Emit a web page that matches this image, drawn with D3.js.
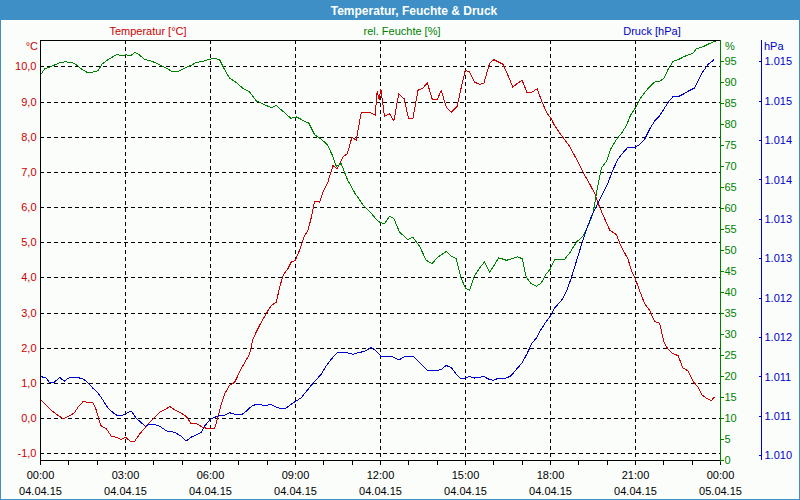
<!DOCTYPE html>
<html>
<head>
<meta charset="utf-8">
<script src="https://cdn.jsdelivr.net/npm/d3@7"></script>
<style>
  body { margin: 0; background: #fbfdfb; }
  svg { display: block; font-family: "Liberation Sans", Arial, sans-serif; }
  .axis path, .axis line { shape-rendering: crispEdges; }
</style>
</head>
<body>
<svg id="chart" width="800" height="500"></svg>
<script>
// tick labels
const yTempTicks = [-1, 0, 1, 2, 3, 4, 5, 6, 7, 8, 9, 10]
const yHumTicks = [0, 5, 10, 15, 20, 25, 30, 35, 40, 45, 50, 55, 60, 65, 70, 75, 80, 85, 90, 95]
const yPressTicks = [1010, 1010.5, 1011, 1011.5, 1012, 1012.5, 1013, 1013.5, 1014, 1014.5, 1015]
const xLabelHours = [0, 3, 6, 9, 12, 15, 18, 21, 24]

// Temperatur [°C]
const tempHours = [0.02,0.4,0.81,0.99,1.2,1.34,1.52,1.69,1.87,1.99,
  2.14,2.34,2.52,2.69,2.87,3.01,3.2,3.34,3.52,3.75,
  3.99,4.22,4.4,4.58,4.75,4.93,5.16,5.34,5.52,5.75,
  5.93,6.16,6.28,6.4,6.52,6.69,6.87,7.1,7.4,7.52,
  7.75,8.05,8.16,8.34,8.46,8.58,8.75,8.87,9.01,9.16,
  9.34,9.46,9.58,9.69,9.87,9.99,10.16,10.34,10.49,10.69,
  10.85,11.01,11.16,11.34,11.64,11.83,11.9,11.97,12.03,12.16,
  12.34,12.49,12.66,12.85,13.01,13.16,13.34,13.52,13.67,13.85,
  14.02,14.16,14.34,14.52,14.72,14.87,15.01,15.16,15.34,15.52,
  15.67,15.87,16.02,16.19,16.34,16.52,16.69,16.87,17.02,17.19,
  17.36,17.55,17.69,17.87,18.05,18.16,18.4,18.69,18.93,19.16,
  19.4,19.58,19.75,19.93,20.11,20.34,20.52,20.75,20.87,21.01,
  21.16,21.34,21.52,21.69,21.87,22.02,22.16,22.34,22.52,22.69,
  22.87,23.05,23.22,23.36,23.55,23.69,23.81]
const tempValues = [0.52,0.22,-0.02,0.05,0.14,0.31,0.47,0.45,0.44,0.22,
  -0.21,-0.30,-0.52,-0.54,-0.61,-0.54,-0.66,-0.66,-0.45,-0.23,
  -0.02,0.17,0.24,0.33,0.24,0.17,0.05,-0.16,-0.16,-0.26,
  -0.30,-0.30,0.03,0.41,0.69,0.93,1.02,1.40,1.83,2.26,
  2.64,3.06,3.20,3.30,3.73,4.06,4.25,4.44,4.48,4.77,
  5.19,5.34,5.72,6.17,6.14,6.43,6.71,7.18,7.09,7.42,
  7.52,7.99,7.90,8.70,8.70,8.61,9.30,9.05,9.35,8.58,
  8.65,8.45,9.22,9.08,8.51,8.51,9.32,9.39,9.53,9.05,
  9.05,9.32,8.84,8.70,8.86,9.41,9.89,9.84,9.55,9.49,
  9.53,10.09,10.19,10.12,10.06,9.74,9.41,9.53,9.60,9.25,
  9.27,9.36,9.05,8.70,8.50,8.32,8.04,7.73,7.37,7.00,
  6.66,6.38,6.00,5.67,5.34,5.22,4.86,4.53,4.20,3.96,
  3.63,3.25,3.06,2.75,2.70,2.16,1.97,1.83,1.78,1.43,
  1.34,1.05,0.88,0.66,0.55,0.50,0.60]

// rel. Feuchte [%]
const humHours = [0.02,0.16,0.4,0.69,0.87,1.11,1.28,1.46,1.69,1.87,
  2.05,2.19,2.4,2.69,2.93,3.05,3.2,3.34,3.46,3.69,
  3.93,4.16,4.46,4.69,4.87,5.11,5.34,5.52,5.75,5.93,
  6.16,6.34,6.52,6.69,6.93,7.16,7.4,7.64,7.87,8.16,
  8.34,8.58,8.85,9.05,9.28,9.49,9.69,9.93,10.14,10.31,
  10.46,10.63,10.85,11.11,11.4,11.69,11.87,12.0,12.16,12.34,
  12.49,12.69,12.99,13.16,13.4,13.63,13.83,14.05,14.34,14.52,
  14.69,14.85,15.01,15.16,15.34,15.52,15.69,15.87,16.02,16.19,
  16.46,16.63,16.85,17.02,17.16,17.34,17.52,17.69,17.87,18.0,
  18.16,18.34,18.52,18.69,18.93,19.16,19.34,19.52,19.64,19.81,
  19.99,20.16,20.34,20.54,20.69,20.85,21.01,21.16,21.34,21.52,
  21.69,21.87,22.02,22.16,22.34,22.52,22.75,23.05,23.16,23.4,
  23.64,23.87]
const humValues = [91.6,93.0,93.6,94.5,94.7,94.6,94.0,93.0,92.1,92.3,
  92.6,94.2,95.2,96.4,96.2,96.4,96.1,97.0,96.6,95.3,
  94.9,94.2,93.2,92.3,92.4,93.2,93.9,94.6,94.8,95.2,
  95.6,95.2,92.8,90.8,89.8,88.4,87.5,85.4,84.7,83.8,
  84.3,82.9,81.3,81.6,80.8,80.1,77.4,76.3,75.0,72.6,
  69.8,70.5,66.7,63.5,60.7,58.7,57.2,56.5,56.2,58.0,
  57.4,54.2,52.4,53.0,50.8,47.5,46.7,48.3,49.6,48.5,
  47.9,43.5,40.9,40.4,43.9,45.7,47.1,44.7,46.2,48.1,
  47.5,47.8,48.3,47.9,43.5,41.9,41.3,42.1,44.3,45.3,
  47.7,47.8,47.8,49.2,51.8,53.2,55.6,58.7,63.5,69.4,
  71.0,74.2,76.2,77.9,79.5,82.1,83.7,85.7,87.4,88.8,
  89.9,90.1,90.8,92.8,94.8,95.2,96.0,96.8,97.8,98.3,
  99.1,99.7]

// Druck [hPa]
const pressHours = [0.02,0.22,0.34,0.49,0.69,0.85,1.05,1.28,1.52,1.69,
  1.87,2.05,2.22,2.4,2.58,2.75,2.93,3.08,3.22,3.4,
  3.58,3.72,3.87,4.07,4.26,4.46,4.64,4.81,4.99,5.16,
  5.34,5.52,5.69,5.81,5.99,6.1,6.28,6.52,6.69,6.87,
  7.1,7.28,7.46,7.64,7.81,7.99,8.14,8.34,8.52,8.69,
  8.87,9.05,9.22,9.4,9.58,9.75,9.93,10.11,10.28,10.49,
  10.69,10.85,11.05,11.22,11.46,11.69,11.87,12.05,12.16,12.4,
  12.66,12.87,13.16,13.34,13.58,13.69,13.93,14.16,14.34,14.52,
  14.69,14.85,15.01,15.16,15.34,15.52,15.67,15.81,15.99,16.19,
  16.4,16.63,16.81,17.01,17.19,17.36,17.52,17.69,17.87,18.0,
  18.16,18.4,18.58,18.75,18.93,19.11,19.28,19.46,19.69,19.87,
  20.05,20.22,20.4,20.58,20.75,21.01,21.16,21.34,21.52,21.69,
  21.87,22.05,22.19,22.34,22.52,22.69,22.87,23.1,23.28,23.4,
  23.58,23.79]
const pressValues = [1011.00,1010.98,1010.92,1010.92,1010.99,1010.94,1010.99,1010.99,1010.97,1010.92,
  1010.85,1010.79,1010.70,1010.60,1010.54,1010.50,1010.51,1010.54,1010.56,1010.47,
  1010.41,1010.37,1010.39,1010.39,1010.36,1010.31,1010.30,1010.28,1010.24,1010.18,
  1010.23,1010.26,1010.29,1010.37,1010.45,1010.47,1010.50,1010.51,1010.54,1010.52,
  1010.51,1010.56,1010.62,1010.65,1010.64,1010.63,1010.65,1010.61,1010.59,1010.60,
  1010.65,1010.69,1010.73,1010.81,1010.89,1010.96,1011.03,1011.14,1011.22,1011.30,
  1011.30,1011.30,1011.28,1011.30,1011.32,1011.37,1011.32,1011.25,1011.25,1011.26,
  1011.21,1011.25,1011.26,1011.20,1011.11,1011.07,1011.07,1011.09,1011.14,1011.11,
  1011.03,1010.97,1010.98,1011.00,1010.98,1010.99,1011.00,1010.97,1010.95,1010.98,
  1010.97,1011.01,1011.09,1011.17,1011.29,1011.42,1011.49,1011.60,1011.70,1011.76,
  1011.87,1011.96,1012.08,1012.25,1012.46,1012.67,1012.86,1013.03,1013.20,1013.33,
  1013.46,1013.62,1013.76,1013.84,1013.91,1013.91,1013.94,1014.01,1014.14,1014.24,
  1014.31,1014.41,1014.49,1014.55,1014.55,1014.58,1014.62,1014.66,1014.79,1014.87,
  1014.96,1015.02]

const red = "#cc0000", green = "#008000", blue = "#0000cc", frameBlue = "#3d8fc6"
const start = new Date(2015, 3, 4, 0, 0)
const toDate = h => new Date(start.getTime() + h * 3600e3)

const plotLeft = 40, plotRight = 720, plotTop = 40, plotBottom = 460
const svg = d3.select("#chart")

const x = d3.scaleTime().domain([start, toDate(24)]).range([plotLeft, plotRight])
const yT = d3.scaleLinear().domain([-1.19, 10.75]).range([plotBottom, plotTop])
const yH = d3.scaleLinear().domain([0, 99.9]).range([plotBottom, plotTop])
const yP = d3.scaleLinear().domain([1009.94, 1015.27]).range([plotBottom, plotTop])

// frame + title bar
svg.append("rect").attr("x", 0.5).attr("y", 0.5).attr("width", 799).attr("height", 499)
    .attr("fill", "#fbfdfb").attr("stroke", frameBlue)
svg.append("rect").attr("x", 0).attr("y", 0).attr("width", 800).attr("height", 20).attr("fill", frameBlue)
svg.append("text").attr("x", 414).attr("y", 14.5).attr("text-anchor", "middle")
    .attr("fill", "white").attr("font-weight", "bold").attr("font-size", 12)
    .text("Temperatur, Feuchte & Druck")

// legend texts
const legend = [["Temperatur [°C]", 148, red], ["rel. Feuchte [%]", 402, green], ["Druck [hPa]", 652, blue]]
for (const [label, lx, col] of legend) {
    svg.append("text").attr("x", lx).attr("y", 35).attr("text-anchor", "middle")
        .attr("fill", col).attr("font-size", 11).text(label)
}
svg.append("text").attr("x", 38).attr("y", 50).attr("text-anchor", "end").attr("fill", red).attr("font-size", 11).text("°C")
svg.append("text").attr("x", 725).attr("y", 50).attr("fill", green).attr("font-size", 11).text("%")
svg.append("text").attr("x", 764).attr("y", 50).attr("fill", blue).attr("font-size", 11).text("hPa")

// grid
const grid = svg.append("g").attr("stroke", "#000").attr("stroke-dasharray", "4,3").attr("shape-rendering", "crispEdges")
grid.selectAll(".h").data(yTempTicks).join("line")
    .attr("x1", plotLeft).attr("x2", plotRight)
    .attr("y1", d => Math.round(yT(d)) + 0.5).attr("y2", d => Math.round(yT(d)) + 0.5)
grid.selectAll(".v").data(xLabelHours.slice(1, -1)).join("line")
    .attr("y1", plotTop).attr("y2", plotBottom)
    .attr("x1", d => Math.round(x(toDate(d))) + 0.5).attr("x2", d => Math.round(x(toDate(d))) + 0.5)

// top frame line
svg.append("line").attr("x1", plotLeft).attr("x2", plotRight).attr("y1", plotTop + 0.5).attr("y2", plotTop + 0.5)
    .attr("stroke", "#000").attr("shape-rendering", "crispEdges")

// lines
const series = [[tempHours, tempValues, yT, red], [humHours, humValues, yH, green], [pressHours, pressValues, yP, blue]]
for (const [hrs, vals, ys, col] of series) {
    const line = d3.line().x((d, i) => x(toDate(hrs[i]))).y(d => ys(d))
    svg.append("path").datum(vals).attr("d", line).attr("fill", "none").attr("stroke", col)
        .attr("stroke-width", 1).attr("shape-rendering", "crispEdges")
}

// left axis (temperature)
const axT = svg.append("g").attr("class", "axis").attr("transform", `translate(${plotLeft + 0.5},0)`)
    .call(d3.axisLeft(yT).tickValues(yTempTicks).tickSize(0).tickPadding(4)
        .tickFormat(d => d.toFixed(1).replace(".", ",")))
axT.select(".domain").attr("d", `M0,${plotTop}V${plotBottom}`).attr("stroke", "#000")
axT.selectAll("text").attr("fill", red).attr("font-size", 11).attr("font-family", "Liberation Sans")

// bottom axis minor ticks
const axMinor = svg.append("g").attr("class", "axis").attr("transform", `translate(0,${plotBottom + 0.5})`)
    .call(d3.axisBottom(x).ticks(d3.timeHour.every(1)).tickSize(4).tickFormat(""))
axMinor.select(".domain").attr("d", `M${plotLeft},0H${plotRight}`).attr("stroke", "#000")

// bottom labels (time + date)
const axX = svg.append("g").attr("transform", `translate(0,${plotBottom})`)
    .call(d3.axisBottom(x).tickValues(xLabelHours.map(toDate)).tickSize(0).tickPadding(10).tickFormat(""))
axX.select(".domain").remove()
axX.selectAll(".tick text").remove()
axX.selectAll(".tick").each(function(d) {
    const t = d3.select(this).append("text").attr("fill", "#000").attr("font-size", 11)
        .attr("text-anchor", "middle").attr("font-family", "Liberation Sans")
    t.append("tspan").attr("x", 0).attr("y", 19).text(d3.timeFormat("%H:%M")(d))
    t.append("tspan").attr("x", 0).attr("y", 35).text(d3.timeFormat("%d.%m.%y")(d))
})

// right axis (humidity)
const axH = svg.append("g").attr("class", "axis").attr("transform", `translate(${plotRight + 0.5},0)`)
    .call(d3.axisRight(yH).tickValues(yHumTicks).tickSize(3).tickPadding(1))
axH.select(".domain").attr("d", `M0,${plotTop}V${plotBottom + 2}`).attr("stroke", green)
axH.selectAll("line").attr("stroke", green)
axH.selectAll("text").attr("fill", green).attr("font-size", 11).attr("font-family", "Liberation Sans")

// far right axis (pressure)
const axP = svg.append("g").attr("class", "axis").attr("transform", `translate(761.5,0)`)
    .call(d3.axisRight(yP).tickValues(yPressTicks).tickSizeInner(-3).tickSizeOuter(0).tickPadding(3)
        .tickFormat(d => "1." + String(Math.round(d) - 1000).padStart(3, "0")))
axP.select(".domain").attr("d", `M0,${plotTop}V${plotBottom}`).attr("stroke", blue)
axP.selectAll("line").attr("stroke", blue)
axP.selectAll("text").attr("fill", blue).attr("font-size", 11).attr("font-family", "Liberation Sans")
</script>
</body>
</html>
